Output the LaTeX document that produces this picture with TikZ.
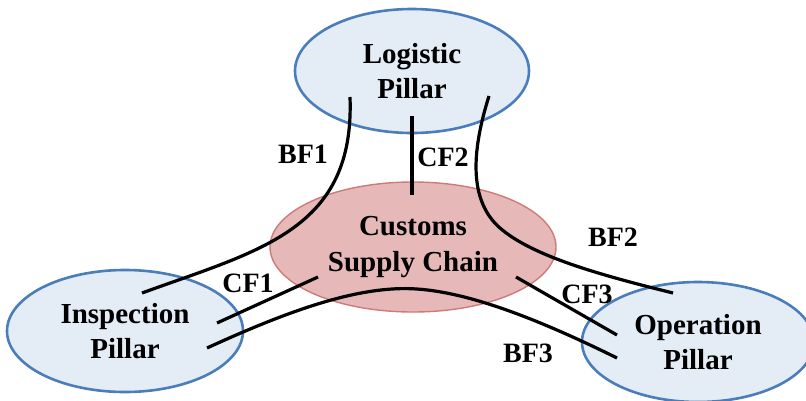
\documentclass[tikz,border=0pt]{standalone}
\usepackage{fontspec}
\setmainfont{Liberation Serif}
\usetikzlibrary{shapes.geometric}
\definecolor{pillarfill}{HTML}{E4ECF6}
\definecolor{pillardraw}{HTML}{4A7EBB}
\definecolor{chainfill}{HTML}{E6B9B8}
\definecolor{chaindraw}{HTML}{CD7A78}
\begin{document}
\begin{tikzpicture}[x=1pt,y=-1pt,
  pillar/.style={ellipse, draw=pillardraw, fill=pillarfill, line width=2.6pt, inner sep=0pt, align=center, font=\fontsize{29}{35}\selectfont\bfseries},
  chain/.style={ellipse, draw=chaindraw, fill=chainfill, line width=1.4pt, inner sep=0pt, align=center, font=\fontsize{29}{36}\selectfont\bfseries},
  link/.style={line width=3.2pt, black},
  lab/.style={font=\fontsize{28}{33}\selectfont\bfseries, inner sep=0pt}]
\useasboundingbox (0,0) rectangle (806,400);
% ellipses
\node[pillar, minimum width=234pt, minimum height=124pt] (L) at (412,71) {Logistic\\Pillar};
\node[chain, minimum width=286pt, minimum height=130pt] (C) at (413,247) {Customs\\Supply Chain};
\node[pillar, minimum width=236pt, minimum height=122pt] (I) at (125,331) {Inspection\\Pillar};
\node[pillar, minimum width=232pt, minimum height=120pt] (O) at (698,342) {Operation\\Pillar};
% connector ends
\coordinate (bf1a) at (350,97);
\coordinate (bf1b) at (142,293);
\coordinate (cf2a) at (412,116);
\coordinate (cf2b) at (412,195);
\coordinate (bf2a) at (489,96);
\coordinate (bf2m) at (500,228);
\coordinate (bf2b) at (673,293);
\coordinate (cf1a) at (318,277);
\coordinate (cf1b) at (217,323);
\coordinate (cf3a) at (516,277);
\coordinate (cf3b) at (617,335);
\coordinate (bf3a) at (207,348);
\coordinate (bf3m) at (417,289);
\coordinate (bf3b) at (617,358);
% connectors
\draw[link] (bf1a) .. controls (355,230) and (260,250) .. (bf1b);
\draw[link] (cf2a) -- (cf2b);
\draw[link] (bf2a) .. controls (472,150) and (468,200) .. (bf2m) .. controls (532,256) and (600,275) .. (bf2b);
\draw[link] (cf1a) -- (cf1b);
\draw[link] (cf3a) -- (cf3b);
\draw[link] (bf3a) .. controls (290,310) and (360,285) .. (bf3m) .. controls (460,292) and (520,310) .. (bf3b);
% labels
\node[lab] (lbf1) at (303,154) {BF1};
\node[lab] (lcf2) at (443,157) {CF2};
\node[lab] (lbf2) at (613,237) {BF2};
\node[lab] (lcf1) at (248,283) {CF1};
\node[lab] (lcf3) at (587,294) {CF3};
\node[lab] (lbf3) at (528,353) {BF3};
\end{tikzpicture}
\end{document}
